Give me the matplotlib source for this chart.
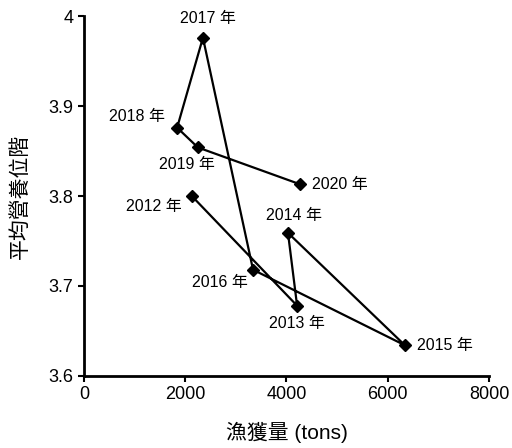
import matplotlib
matplotlib.use("Agg")
import matplotlib.pyplot as plt

plt.rcParams['font.family'] = ['Liberation Sans', 'Noto Sans CJK TC', 'DejaVu Sans']

years = ["2012", "2013", "2014", "2015", "2016", "2017", "2018", "2019", "2020"]
catch = [2130, 4210, 4030, 6340, 3340, 2350, 1840, 2250, 4270]
trophic = [3.800, 3.678, 3.759, 3.634, 3.718, 3.976, 3.876, 3.854, 3.813]
x_ticks = [0, 2000, 4000, 6000, 8000]
y_ticks = [3.6, 3.7, 3.8, 3.9, 4.0]
y_tick_labels = ["3.6", "3.7", "3.8", "3.9", "4"]

# label offsets (pixels) and alignment
label_pos = {
    "2012": (-10, -10, 'right', 'center'),
    "2013": (0, -18, 'center', 'center'),
    "2014": (6, 17, 'center', 'center'),
    "2015": (12, 0, 'left', 'center'),
    "2016": (-33, -13, 'center', 'center'),
    "2017": (5, 19, 'center', 'center'),
    "2018": (-12, 11, 'right', 'center'),
    "2019": (-11, -17, 'center', 'center'),
    "2020": (12, 0, 'left', 'center'),
}

fig = plt.figure(figsize=(5.12, 4.48), dpi=100)
ax = fig.add_axes([0.164, 0.161, 0.791, 0.803])

ax.plot(catch, trophic, color='black', lw=1.6, marker='D', markersize=6.5, zorder=3)

for yr, xv, yv in zip(years, catch, trophic):
    dx, dy, ha, va = label_pos[yr]
    ax.annotate(yr + " 年", (xv, yv), xytext=(dx, dy), textcoords='offset pixels',
                ha=ha, va=va, fontsize=11.5)

ax.set_xlim(0, 8000)
ax.set_ylim(3.6, 4.0)
ax.set_xticks(x_ticks)
ax.set_yticks(y_ticks)
ax.set_yticklabels(y_tick_labels)
ax.tick_params(labelsize=13, width=1.5, length=4, direction='out')
for s in ['top', 'right']:
    ax.spines[s].set_visible(False)
for s in ['left', 'bottom']:
    ax.spines[s].set_linewidth(2)

ax.set_xlabel("漁獲量 (tons)", fontsize=15, va='center')
ax.set_ylabel("平均營養位階", fontsize=15, va='center')
ax.xaxis.set_label_coords(0.5, -0.158)
ax.yaxis.set_label_coords(-0.158, 0.5)

fig.savefig("out.png", dpi=100)
